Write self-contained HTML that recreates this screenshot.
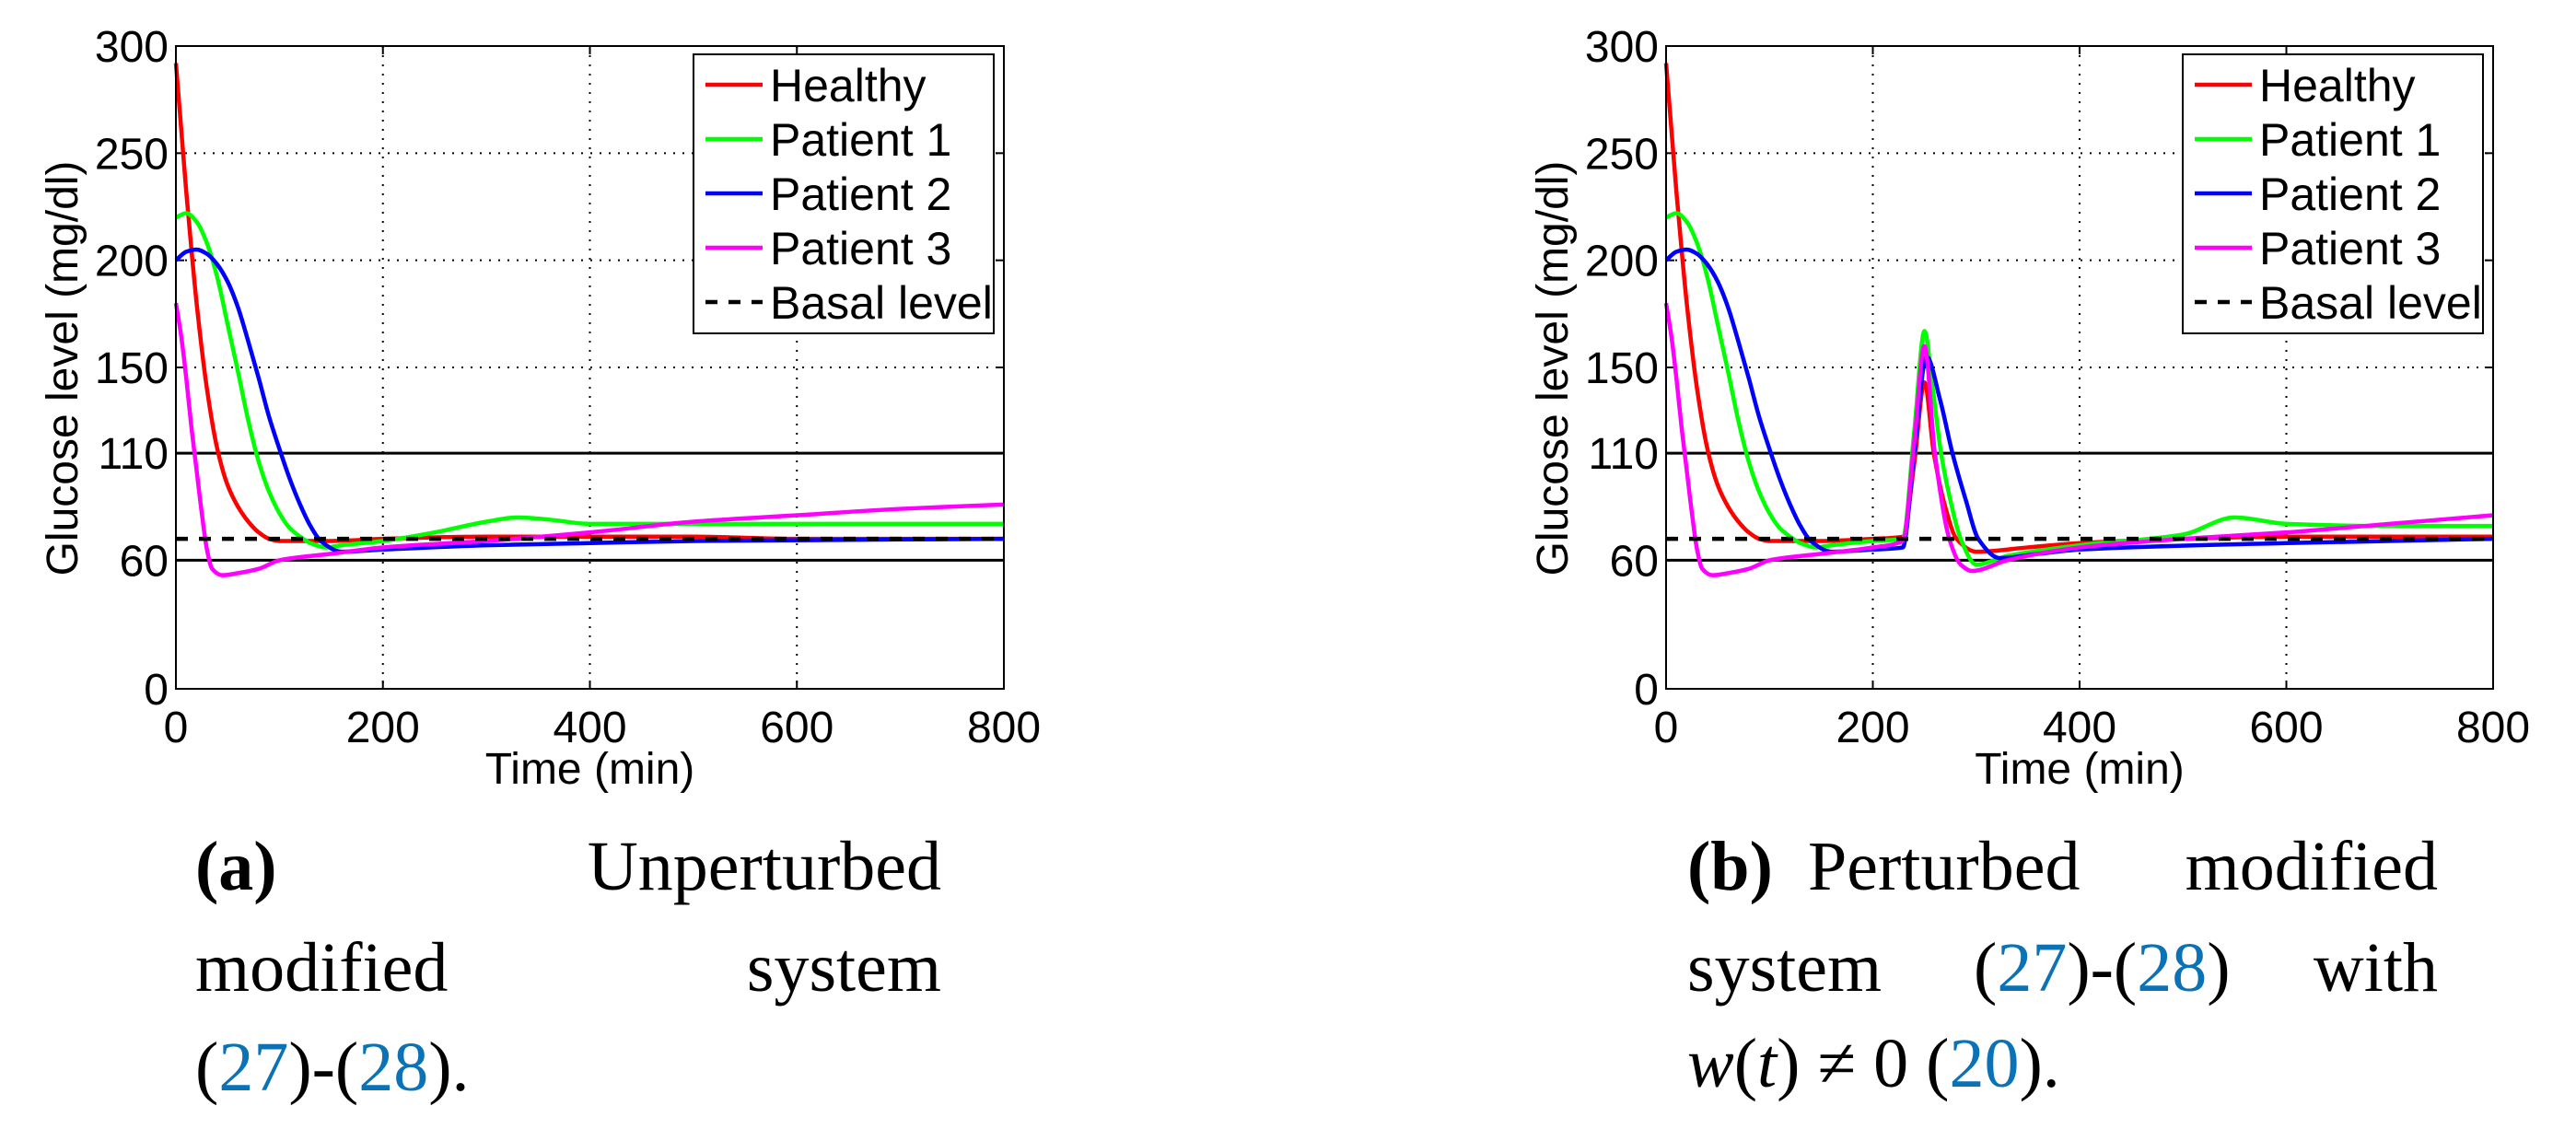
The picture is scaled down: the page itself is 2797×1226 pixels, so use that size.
<!DOCTYPE html>
<html><head><meta charset="utf-8"><style>
html,body{margin:0;padding:0;background:#fff;}
svg{display:block;}
.tk{font-family:"Liberation Sans",sans-serif;font-size:48px;fill:#000;}
.cap{font-family:"Liberation Serif",serif;font-size:76px;fill:#000;}
.lnk{fill:#0b72b5;}
</style></head><body>
<svg id="fig" width="2797" height="1226" viewBox="0 0 2797 1226" xmlns="http://www.w3.org/2000/svg">
<g id="pa"></g>
<g id="pb"></g>
<g>
<text class="cap" x="212" y="966" font-weight="bold">(a)</text>
<text class="cap" x="1022" y="966" text-anchor="end">Unperturbed</text>
<text class="cap" x="212" y="1076">modified</text>
<text class="cap" x="1022" y="1076" text-anchor="end">system</text>
<text class="cap" x="212" y="1184">(<tspan class="lnk">27</tspan>)-(<tspan class="lnk">28</tspan>).</text>
</g>
<g>
<text class="cap" x="1832" y="966" font-weight="bold">(b)</text>
<text class="cap" x="1963" y="966">Perturbed</text>
<text class="cap" x="2647" y="966" text-anchor="end">modified</text>
<text class="cap" x="1832" y="1076">system</text>
<text class="cap" x="2143" y="1076">(<tspan class="lnk">27</tspan>)-(<tspan class="lnk">28</tspan>)</text>
<text class="cap" x="2647" y="1076" text-anchor="end">with</text>
<text class="cap" x="1832" y="1180"><tspan font-style="italic">w</tspan>(<tspan font-style="italic">t</tspan>) ≠ 0 (<tspan class="lnk">20</tspan>).</text>
</g>
</svg>
<script>
// ---- data ----
const xTicks = [0, 200, 400, 600, 800];
const yTicks = [0, 60, 110, 150, 200, 250, 300];
const gridY = [150, 200, 250];
const limitLines = [60, 110];
const basal = 70;
const seriesNames = ["Healthy", "Patient 1", "Patient 2", "Patient 3"];

const aHealthyT = [0,5,10,15,20,30,40,50,60,70,80,90,100,120,150,200,300,400,500,600,700,800];
const aHealthyV = [292,262,232,205,180,140,112,95,85,78,73,70,69,69,69,70,71,71,71,70,70,70];
const aP1T = [0,10,20,30,40,50,60,70,80,90,100,110,120,130,145,160,200,250,300,330,360,400,450,500,600,700,800];
const aP1V = [220,222,218,208,192,170,148,125,106,92,82,75,71,68,66,67,69,73,78,80,79,77,77,77,77,77,77];
const aP2T = [0,10,20,30,40,50,60,70,80,90,100,110,120,130,140,160,200,300,400,500,800];
const aP2V = [200,204,205,203,198,190,178,162,145,127,112,98,86,76,69,64,65,67,68,69,70];
const aP3T = [0,5,10,15,20,25,30,35,45,60,80,100,150,200,300,400,500,600,700,800];
const aP3V = [180,165,145,122,102,82,65,56,53,54,56,60,63,66,69,73,78,81,84,86];

const bHealthyT = [0,5,10,15,20,30,40,50,60,70,80,90,100,120,150,200,229,240,250,259,270,281,300,350,400,500,600,700,800];
const bHealthyV = [292,262,232,205,180,140,112,95,85,78,73,70,69,69,69,70,71,105,143,110,85,70,64,66,68,70,71,71,71];
const bP1T = [0,10,20,30,40,50,60,70,80,90,100,110,120,130,145,160,200,229,240,250,258,266,275,285,300,330,400,500,550,600,700,800];
const bP1V = [220,222,218,208,192,170,148,125,106,92,82,75,71,68,66,67,69,70,120,167,140,110,88,70,58,62,67,72,80,77,76,76];
const bP2T = [0,10,20,30,40,50,60,70,80,90,100,110,120,130,140,160,200,229,240,252,265,277,290,302,323,360,400,600,800];
const bP2V = [200,204,205,203,198,190,178,162,145,127,112,98,86,76,69,64,65,66,110,155,135,110,88,70,61,63,65,68,70];
const bP3T = [0,5,10,15,20,25,30,35,45,60,80,100,150,200,229,240,250,260,274,285,296,330,400,500,600,700,800];
const bP3V = [180,165,145,122,102,82,65,56,53,54,56,60,63,66,69,115,160,110,70,58,55,60,66,70,73,77,81];

const colors = ["#ff0000", "#00ff00", "#0000ff", "#ff00ff"];
const NS = "http://www.w3.org/2000/svg";

function el(tag, attrs, parent) {
  const e = document.createElementNS(NS, tag);
  for (const k in attrs) e.setAttribute(k, attrs[k]);
  parent.appendChild(e);
  return e;
}

// monotone cubic (Fritsch-Carlson) path
function monoPath(xs, ys) {
  const n = xs.length;
  const dx = [], m = [];
  for (let i = 0; i < n - 1; i++) { dx.push(xs[i+1]-xs[i]); m.push((ys[i+1]-ys[i])/(xs[i+1]-xs[i])); }
  const t = new Array(n);
  t[0] = m[0]; t[n-1] = m[n-2];
  for (let i = 1; i < n - 1; i++) {
    if (m[i-1] * m[i] <= 0) t[i] = 0;
    else {
      const w1 = 2*dx[i] + dx[i-1], w2 = dx[i] + 2*dx[i-1];
      t[i] = (w1 + w2) / (w1 / m[i-1] + w2 / m[i]);
    }
  }
  let d = "M" + xs[0] + "," + ys[0];
  for (let i = 0; i < n - 1; i++) {
    const h = dx[i] / 3;
    d += " C" + (xs[i]+h) + "," + (ys[i]+t[i]*h) + " " + (xs[i+1]-h) + "," + (ys[i+1]-t[i+1]*h) + " " + xs[i+1] + "," + ys[i+1];
  }
  return d;
}

function drawPanel(g, L, R, T, B, series) {
  const sx = t => L + (t / 800) * (R - L);
  const sy = v => B - (v / 300) * (B - T);
  for (const t of xTicks.slice(1, -1)) {
    const l = el("line", {x1: sx(t), x2: sx(t), y1: T, y2: B, stroke: "#000", "stroke-width": 2, "stroke-dasharray": "2 8"}, g);
    
    
  }
  for (const v of gridY) {
    const l = el("line", {x1: L, x2: R, y1: sy(v), y2: sy(v), stroke: "#000", "stroke-width": 2, "stroke-dasharray": "2 8"}, g);
    
    
  }
  for (const t of xTicks) {
    const m1 = el("line", {x1: sx(t), x2: sx(t), y1: B, y2: B - 9, stroke: "#000", "stroke-width": 2}, g);
    
    
    const m2 = el("line", {x1: sx(t), x2: sx(t), y1: T, y2: T + 9, stroke: "#000", "stroke-width": 2}, g);
    
    
    const tx = el("text", {x: sx(t), y: 806, "text-anchor": "middle", class: "tk"}, g);
    tx.textContent = t;
    
    
  }
  for (const v of yTicks) {
    const m1 = el("line", {x1: L, x2: L + 9, y1: sy(v), y2: sy(v), stroke: "#000", "stroke-width": 2}, g);
    
    
    const m2 = el("line", {x1: R, x2: R - 9, y1: sy(v), y2: sy(v), stroke: "#000", "stroke-width": 2}, g);
    
    
    const tx = el("text", {x: L - 8, y: sy(v) + 17, "text-anchor": "end", class: "tk"}, g);
    tx.textContent = v;
    
    
  }
  for (const v of limitLines) {
    const l = el("line", {x1: L, x2: R, y1: sy(v), y2: sy(v), stroke: "#000", "stroke-width": 3}, g);
    
    
  }
  series.forEach((s, i) => {
    const [T0, V0] = s;
    const p = el("path", {d: monoPath(T0.map(sx), V0.map(sy)), fill: "none", stroke: colors[i], "stroke-width": 4.5, "stroke-linejoin": "round"}, g);
    
    
  });
  const bl = el("line", {x1: L, x2: R, y1: sy(basal), y2: sy(basal), stroke: "#000", "stroke-width": 4.5, "stroke-dasharray": "13 12"}, g);
  
  
  const box = el("rect", {x: L, y: T, width: R - L, height: B - T, fill: "none", stroke: "#000", "stroke-width": 2}, g);
  
  
  const xt = el("text", {x: (L + R) / 2, y: 851, "text-anchor": "middle", class: "tk"}, g);
  xt.textContent = "Time (min)";
  
  
  const yt = el("text", {x: 0, y: 0, "text-anchor": "middle", class: "tk", transform: "translate(" + (L - 107) + ",400) rotate(-90)"}, g);
  yt.textContent = "Glucose level (mg/dl)";
  
  
  const lx = R - 337, ly = 59;
  const lg = el("g", {}, g);
  
  
  el("rect", {x: lx, y: ly, width: 326, height: 303, fill: "#fff", stroke: "#000", "stroke-width": 2}, lg);
  const labels = seriesNames.concat(["Basal level"]);
  labels.forEach((name, i) => {
    const cy = ly + 33 + i * 59;
    const ent = el("g", {}, lg);
    
    
    const ln = el("line", {x1: lx + 13, x2: lx + 75, y1: cy, y2: cy, stroke: i < 4 ? colors[i] : "#000", "stroke-width": 4.5}, ent);
    if (i === 4) ln.setAttribute("stroke-dasharray", "13 12");
    const tx = el("text", {x: lx + 83, y: cy + 18, class: "tk"}, ent);
    tx.setAttribute("style", "font-size:50px");
    tx.textContent = name;
  });
}

drawPanel(document.getElementById("pa"), 191, 1090, 50, 748,
  [[aHealthyT, aHealthyV], [aP1T, aP1V], [aP2T, aP2V], [aP3T, aP3V]]);
drawPanel(document.getElementById("pb"), 1809, 2707, 50, 748,
  [[bHealthyT, bHealthyV], [bP1T, bP1V], [bP2T, bP2V], [bP3T, bP3V]]);
</script>
</body></html>
